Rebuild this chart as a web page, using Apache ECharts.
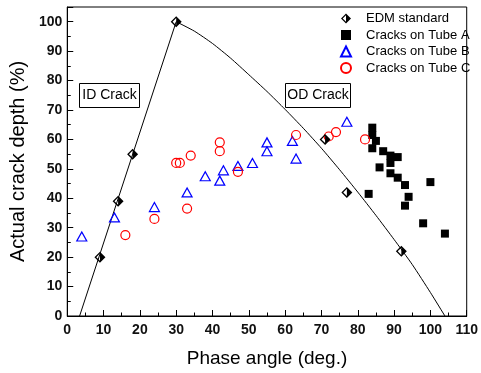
<!DOCTYPE html>
<html>
<head>
<meta charset="utf-8">
<script src="https://cdn.jsdelivr.net/npm/echarts@6/dist/echarts.min.js"></script>
<style>
  html, body { margin: 0; padding: 0; background: #fff; }
  #chart { width: 481px; height: 373px; }
</style>
</head>
<body>
<div id="chart"></div>
<script>
// EDM standard points
const edmX = [9, 14, 18, 30, 71, 77, 92]
const edmY = [20, 39, 55, 100, 60, 42, 22]

// cracks on tube A
const tubeAX = [84, 84, 85, 84, 87, 89, 91, 89, 86, 89, 91, 93, 100, 83, 94, 93, 98, 104]
const tubeAY = [64, 61.5, 59.5, 57, 56, 54.5, 54, 52, 50.5, 48.5, 47, 44.5, 45.5, 41.5, 40.5, 37.5, 31.5, 28]

// cracks on tube B
const tubeBX = [4, 13, 24, 33, 38, 42, 43, 47, 51, 55, 55, 62, 63, 77]
const tubeBY = [27, 33.5, 37, 42, 47.5, 46, 49.5, 51, 52, 59, 56, 59.5, 53.5, 66]

// cracks on tube C
const tubeCX = [16, 24, 33, 30, 31, 34, 42, 42, 47, 63, 72, 74, 82]
const tubeCY = [27.5, 33, 36.5, 52, 52, 54.5, 59, 56, 49, 61.5, 61, 62.5, 60]

// ID crack line (straight) and OD crack curve
const idLineX = [3.4, 30]
const idLineY = [0, 100]
const odCurveX = [30, 35, 40, 45, 50, 55, 60, 65, 70, 75, 80, 85, 90, 95, 100, 104]
const odCurveY = [100, 96.8, 92.6, 87.6, 82, 76.3, 70.2, 63.8, 57, 49.7, 42.1, 34.2, 26, 17.5, 8, 0]

const zip = (xs, ys) => xs.map((x, i) => [x, ys[i]])

const halfDiamond = "path://M5 0L10 5L5 10L0 5ZM5 1.7L1.7 5L5 8.3Z"
const font = "Arial, 'Liberation Sans', sans-serif"

const chart = echarts.init(document.getElementById("chart"))

chart.setOption({
  backgroundColor: "#fff",
  animation: false,
  grid: {
    left: 60, right: 11, top: 7, bottom: 56,
    show: true, borderColor: "#000", borderWidth: 1,
  },
  legend: {
    orient: "vertical",
    left: 335,
    top: 7,
    itemWidth: 10,
    itemHeight: 10,
    itemGap: 3.5,
    textStyle: { fontFamily: font, fontSize: 13, color: "#000", padding: [0, 0, 0, 10] },
    data: [
      { name: "EDM standard", icon: halfDiamond },
      { name: "Cracks on Tube A" },
      { name: "Cracks on Tube B" },
      { name: "Cracks on Tube C" },
    ],
  },
  xAxis: {
    type: "value",
    min: 0, max: 110, interval: 10,
    name: "Phase angle (deg.)",
    nameLocation: "middle",
    nameGap: 33,
    nameTextStyle: { fontFamily: font, fontSize: 19, color: "#000" },
    axisLine: { lineStyle: { color: "#000", width: 1 } },
    axisTick: { inside: true, length: 6, lineStyle: { color: "#000" } },
    minorTick: { show: true, splitNumber: 2, length: 3.5, lineStyle: { color: "#000" } },
    axisLabel: { fontFamily: font, fontSize: 14, fontWeight: "bold", color: "#111", margin: 7 },
    splitLine: { show: false },
  },
  yAxis: {
    type: "value",
    min: 0, max: 105, interval: 10,
    name: "Actual crack depth (%)",
    nameLocation: "middle",
    nameGap: 33,
    nameTextStyle: { fontFamily: font, fontSize: 20, color: "#000" },
    axisLine: { show: true, lineStyle: { color: "#000", width: 1 } },
    axisTick: { inside: true, length: 6, lineStyle: { color: "#000" } },
    minorTick: { show: true, splitNumber: 2, length: 3.5, lineStyle: { color: "#000" } },
    axisLabel: {
      fontFamily: font, fontSize: 14, fontWeight: "bold", color: "#111", margin: 5,
      formatter: (v) => (v % 10 === 0 ? String(v) : ""),
    },
    splitLine: { show: false },
  },
  graphic: [
    {
      type: "group", left: 79, top: 83,
      children: [
        { type: "rect", shape: { x: 0, y: 0, width: 60, height: 24 },
          style: { fill: "#fff", stroke: "#000", lineWidth: 1 } },
        { type: "text", x: 30, y: 12,
          style: { text: "ID Crack", font: "14px " + font, fill: "#000", align: "center", verticalAlign: "middle" } },
      ],
    },
    {
      type: "group", left: 285, top: 83,
      children: [
        { type: "rect", shape: { x: 0, y: 0, width: 65, height: 24 },
          style: { fill: "#fff", stroke: "#000", lineWidth: 1 } },
        { type: "text", x: 32.5, y: 12,
          style: { text: "OD Crack", font: "14px " + font, fill: "#000", align: "center", verticalAlign: "middle" } },
      ],
    },
  ],
  series: [
    {
      name: "ID line",
      type: "line",
      data: zip(idLineX, idLineY),
      showSymbol: false,
      lineStyle: { color: "#000", width: 1 },
      z: 1,
    },
    {
      name: "OD curve",
      type: "line",
      data: zip(odCurveX, odCurveY),
      smooth: 0.2,
      showSymbol: false,
      lineStyle: { color: "#000", width: 1 },
      z: 1,
    },
    {
      name: "EDM standard",
      type: "scatter",
      data: zip(edmX, edmY),
      symbol: halfDiamond,
      symbolSize: [11, 11],
      itemStyle: { color: "#000", opacity: 1 },
      z: 3,
    },
    {
      name: "Cracks on Tube A",
      type: "scatter",
      data: zip(tubeAX, tubeAY),
      symbol: "rect",
      symbolSize: 8,
      itemStyle: { color: "#000", opacity: 1 },
      z: 2,
    },
    {
      name: "Cracks on Tube B",
      type: "scatter",
      data: zip(tubeBX, tubeBY),
      symbol: "triangle",
      symbolSize: [10, 9],
      itemStyle: { color: "rgba(0,0,0,0)", borderColor: "#0000ff", borderWidth: 1.2, opacity: 1 },
      z: 2,
    },
    {
      name: "Cracks on Tube C",
      type: "scatter",
      data: zip(tubeCX, tubeCY),
      symbol: "circle",
      symbolSize: 9,
      itemStyle: { color: "rgba(0,0,0,0)", borderColor: "#ff0000", borderWidth: 1.2, opacity: 1 },
      z: 2,
    },
  ],
})
</script>
</body>
</html>
